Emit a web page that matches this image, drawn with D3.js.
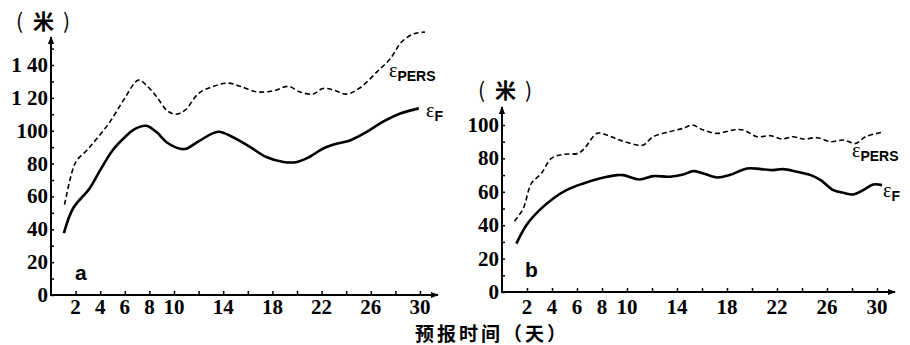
<!DOCTYPE html>
<html>
<head>
<meta charset="utf-8">
<script src="https://cdn.jsdelivr.net/npm/d3@7/dist/d3.min.js"></script>
<style>
  body { margin: 0; background: #fff; }
  svg { display: block; }
</style>
</head>
<body>
<div id="chart"></div>
<script>
// Forecast day ticks (shared by both panels)
const xTickDays = [2, 4, 6, 8, 10, 12, 14, 16, 18, 20, 22, 24, 26, 28, 30];
const xLabelDays = [2, 4, 6, 8, 10, 14, 18, 22, 26, 30];

// Panel a: y ticks and labels
const yMinorA = [0, 10, 20, 30, 40, 50, 60, 70, 80, 90, 100, 110, 120, 130, 140, 150];
const yLabelValuesA = [0, 20, 40, 60, 80, 100, 120, 140];
const yLabelTextA = ['0', '20', '40', '60', '80', '100', '1 20', '1 40'];

// Panel b: y ticks and labels
const yMinorB = [0, 10, 20, 30, 40, 50, 60, 70, 80, 90, 100];
const yLabelValuesB = [0, 20, 40, 60, 80, 100];
const yLabelTextB = ['0', '20', '40', '60', '80', '100'];

// Panel a, eps_F (solid)
const daysA_F = [1.05, 1.8, 3.15, 4, 5, 6, 6.8, 7.75, 8.6, 9.4, 10.5, 11, 12.1, 13.6, 14.8, 16.2, 17.5, 18.9, 20, 21, 22.1, 23.2, 24.3, 25.7, 27, 28.4, 29.9];
const errA_F = [37.7, 52.8, 65, 76, 88, 96, 101, 103, 99, 93, 89, 89, 94, 99.4, 96, 90, 84, 81, 81, 84, 89, 92, 94, 99.4, 105.5, 110.5, 113.6];

// Panel a, eps_PERS (dashed)
const daysA_P = [1.1, 1.75, 2.1, 2.9, 3.7, 4.8, 5.9, 7.1, 7.75, 8.6, 9.4, 10.1, 10.9, 12, 13.2, 14.4, 15.4, 16.7, 18.1, 19.3, 20.2, 21.3, 22.1, 23, 24, 25.1, 26.5, 27.6, 28.5, 29.5, 30.4];
const errA_P = [55, 76, 82, 88, 95, 105.5, 118.6, 130.8, 127.7, 120.6, 112.5, 110, 112.5, 122.7, 127, 129, 127, 123.7, 124.3, 127, 123.7, 122.3, 125.7, 124.7, 122.3, 126, 135.8, 144, 154, 159, 160];

// Panel b, eps_F (solid)
const daysB_F = [1.15, 1.95, 3, 4.1, 5.15, 6.5, 7.8, 9.2, 9.7, 11, 12.1, 13.4, 14.5, 15.3, 16.1, 17.2, 18.2, 19.6, 20.7, 21.7, 22.5, 23.6, 24.7, 25.5, 26.5, 27.3, 28.1, 28.9, 29.7, 30.4];
const errB_F = [29, 40, 49, 56, 61, 65, 68, 70, 70, 67.4, 69.4, 69, 70.4, 72.4, 71, 68.6, 70, 74, 73.6, 73, 73.6, 72, 70, 67, 61, 59.4, 58.4, 61, 64.4, 64];

// Panel b, eps_PERS (dashed)
const daysB_P = [1, 1.7, 2.35, 3.15, 3.95, 4.9, 6.1, 6.6, 7.6, 8.4, 9.4, 10.8, 11.3, 12.1, 13.4, 14.5, 15.2, 16.1, 17.2, 18.5, 19.3, 20.4, 21.5, 22.4, 23.3, 24.1, 25.2, 26.3, 27.3, 28.3, 29.1, 30.4];
const errB_P = [42.4, 50, 65, 71, 80, 82.4, 83, 86, 95, 94, 91, 88, 88, 93, 96, 98, 100, 97, 95, 97, 97, 93, 93.6, 91.6, 93, 91.6, 92.4, 90, 91, 89, 93, 95.6];

const width = 910;
const height = 345;
const serif = '"Liberation Serif", "DejaVu Serif", serif';
const sans = '"Liberation Sans", Arial, sans-serif';
const cjk = '"Noto Sans CJK SC", sans-serif';

const svg = d3.select('#chart')
  .append('svg')
  .attr('width', width)
  .attr('height', height);

const defs = svg.append('defs');
defs.append('marker')
  .attr('id', 'arrow')
  .attr('viewBox', '0 0 10 10')
  .attr('refX', 9)
  .attr('refY', 5)
  .attr('markerWidth', 4)
  .attr('markerHeight', 4)
  .attr('orient', 'auto')
  .append('path')
  .attr('d', 'M0,1 L10,5 L0,9 Z')
  .attr('fill', '#000');

const drawPanel = (cfg) => {
  const x = d3.scaleLinear().domain([0, 30]).range(cfg.xRange);
  const y = d3.scaleLinear().domain([0, cfg.yMax]).range(cfg.yRange);
  const g = svg.append('g');

  // Axis lines with arrow heads
  g.append('line')
    .attr('x1', x(0)).attr('y1', y(0))
    .attr('x2', cfg.xEnd).attr('y2', y(0))
    .attr('stroke', '#000').attr('stroke-width', 2)
    .attr('marker-end', 'url(#arrow)');
  g.append('line')
    .attr('x1', x(0)).attr('y1', y(0) + 1)
    .attr('x2', x(0)).attr('y2', cfg.yTop)
    .attr('stroke', '#000').attr('stroke-width', 2)
    .attr('marker-end', 'url(#arrow)');

  // X axis ticks (pointing up) and labels
  const xAxis = g.append('g')
    .attr('transform', `translate(0,${y(0)})`)
    .call(d3.axisBottom(x).tickValues(xTickDays).tickSizeInner(-4).tickSizeOuter(0).tickFormat(() => ''));
  xAxis.select('.domain').remove();
  xAxis.selectAll('.tick line').attr('stroke-width', 1.5);

  g.selectAll('.xlabel')
    .data(xLabelDays)
    .join('text')
    .attr('x', d => x(d))
    .attr('y', y(0) + cfg.xLabelDy)
    .attr('text-anchor', 'middle')
    .style('font-family', serif)
    .style('font-size', '21px')
    .style('font-weight', 'bold')
    .text(d => d);

  // Y axis minor ticks
  const yAxis = g.append('g')
    .attr('transform', `translate(${x(0)},0)`)
    .call(d3.axisRight(y).tickValues(cfg.yMinor).tickSizeInner(3).tickSizeOuter(0).tickFormat(() => ''));
  yAxis.select('.domain').remove();
  yAxis.selectAll('.tick line').attr('stroke-width', 1.5);

  g.selectAll('.ylabel')
    .data(cfg.yLabelValues)
    .join('text')
    .attr('x', x(0) - 3)
    .attr('y', d => y(d) + 7)
    .attr('text-anchor', 'end')
    .style('font-family', serif)
    .style('font-size', '21px')
    .style('font-weight', 'bold')
    .text((d, i) => cfg.yLabelText[i]);

  // Curves
  const line = d3.line()
    .x(d => x(d[0]))
    .y(d => y(d[1]))
    .curve(d3.curveCatmullRom);

  g.append('path')
    .datum(d3.zip(cfg.daysP, cfg.errP))
    .attr('d', line)
    .attr('fill', 'none')
    .attr('stroke', '#000')
    .attr('stroke-width', 1.6)
    .attr('stroke-dasharray', '5,3');

  g.append('path')
    .datum(d3.zip(cfg.daysF, cfg.errF))
    .attr('d', line)
    .attr('fill', 'none')
    .attr('stroke', '#000')
    .attr('stroke-width', 2.6);

  // Unit label, widely spaced like the original
  const unit = g.append('text')
    .attr('y', cfg.unitPos[1])
    .style('font-family', cjk)
    .style('font-size', '21px')
    .style('font-weight', 'bold');
  unit.append('tspan').attr('x', cfg.unitPos[0]).style('font-weight', 'normal').text('(');
  unit.append('tspan').attr('x', cfg.unitPos[0] + 17).text('米');
  unit.append('tspan').attr('x', cfg.unitPos[0] + 47).style('font-weight', 'normal').text(')');

  // Panel letter
  g.append('text')
    .attr('x', cfg.letterPos[0])
    .attr('y', cfg.letterPos[1])
    .style('font-family', sans)
    .style('font-size', '21px')
    .style('font-weight', 'bold')
    .text(cfg.letter);

  // Curve labels
  const pers = g.append('text')
    .attr('x', cfg.persPos[0])
    .attr('y', cfg.persPos[1]);
  pers.append('tspan')
    .style('font-family', serif)
    .style('font-size', '20px')
    .text('ε');
  pers.append('tspan')
    .attr('dy', 4)
    .style('font-family', sans)
    .style('font-size', '14px')
    .style('font-weight', 'bold')
    .text('PERS');

  const f = g.append('text')
    .attr('x', cfg.fPos[0])
    .attr('y', cfg.fPos[1]);
  f.append('tspan')
    .style('font-family', serif)
    .style('font-size', '20px')
    .text('ε');
  f.append('tspan')
    .attr('dy', 4)
    .style('font-family', sans)
    .style('font-size', '14px')
    .style('font-weight', 'bold')
    .text('F');
};

drawPanel({
  xRange: [51, 420], xEnd: 438, xLabelDy: 19,
  yMax: 140, yRange: [295, 65], yTop: 37,
  yMinor: yMinorA, yLabelValues: yLabelValuesA, yLabelText: yLabelTextA,
  daysF: daysA_F, errF: errA_F, daysP: daysA_P, errP: errA_P,
  unitPos: [16, 29], letter: 'a', letterPos: [75, 280],
  persPos: [389, 77], fPos: [426, 117]
});

drawPanel({
  xRange: [502, 877], xEnd: 895, xLabelDy: 22,
  yMax: 100, yRange: [292, 125], yTop: 107,
  yMinor: yMinorB, yLabelValues: yLabelValuesB, yLabelText: yLabelTextB,
  daysF: daysB_F, errF: errB_F, daysP: daysB_P, errP: errB_P,
  unitPos: [478, 98], letter: 'b', letterPos: [525, 277],
  persPos: [852, 157], fPos: [883, 197]
});

// Shared x axis title
svg.append('text')
  .attr('x', 492)
  .attr('y', 341)
  .attr('text-anchor', 'middle')
  .style('font-family', cjk)
  .style('font-size', '19px')
  .style('font-weight', 'bold')
  .style('letter-spacing', '3px')
  .text('预报时间（天）');
</script>
</body>
</html>
